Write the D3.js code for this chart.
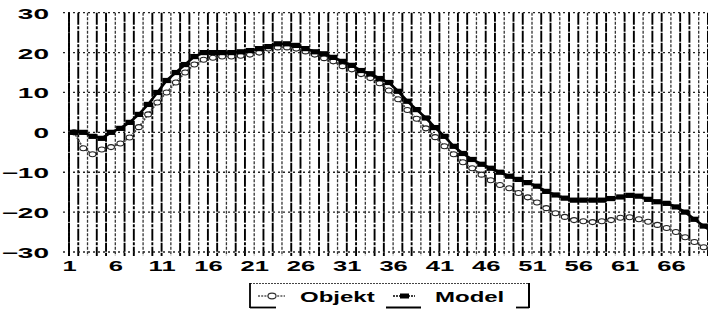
<!DOCTYPE html>
<html><head><meta charset="utf-8">
<script src="https://cdn.jsdelivr.net/npm/d3@7/dist/d3.min.js"></script>
<style>html,body{margin:0;padding:0;background:#fff;} svg{display:block;}</style>
</head><body>
<svg id="c" width="708" height="311"></svg>
<script>
const categories = [1,2,3,4,5,6,7,8,9,10,11,12,13,14,15,16,17,18,19,20,21,22,23,24,25,26,27,28,29,30,
  31,32,33,34,35,36,37,38,39,40,41,42,43,44,45,46,47,48,49,50,51,52,53,54,55,56,57,58,59,60,
  61,62,63,64,65,66,67,68,69,70];
const objekt = [0,-4,-5.5,-4.3,-3.7,-2.8,-1.3,1.3,4.5,7.5,10,12.5,15,17,18.2,18.7,19,19,19.2,19.5,
  20,21,21.3,21.3,21,20.3,19.5,18.6,17.8,16.6,15.8,14.6,13.6,12.3,10.5,8.3,5.6,3.4,1,-1.2,
  -3.5,-5.5,-7.5,-9,-10.6,-12,-13.2,-14,-15.2,-16.3,-17.6,-19,-20.3,-21.2,-22,-22.3,-22.5,-22.3,-22,-21.4,
  -21.3,-21.8,-22.4,-23.2,-24,-25,-26.3,-27.5,-28.8,-30];
const model = [0,0,-1,-1.5,0,1,2.5,4.5,7,10,13,15,17,19,20,20,20,20,20.2,20.5,
  21,21.5,22.2,22.2,21.8,21,20.2,19.7,18.8,17.8,16.8,15.5,14.7,13.5,12.5,10.3,7.8,5.7,3.6,1.2,
  -1,-3.5,-5.3,-6.8,-8,-9,-10,-11,-11.8,-12.6,-13.5,-14.8,-15.7,-16.5,-17,-17,-17,-17,-16.6,-16.2,
  -15.8,-16,-16.8,-17.4,-17.8,-18.7,-20,-21.8,-23.5,-25];
const xTickLabels = ["1","6","11","16","21","26","31","36","41","46","51","56","61","66"];
const yTicks = [-30,-20,-10,0,10,20,30];
const seriesNames = ["Objekt","Model"];

(function () {
const svg = d3.select("#c");
const FONT = "'Liberation Sans', Arial, sans-serif";
const leftX = 69, topY = 12.7, bottomY = 252, step = 9.26;
const x = d3.scaleLinear().domain([1, 70]).range([leftX, leftX + 69 * step]);
const xm = d3.scaleLinear().domain([1, 70]).range([leftX + 5, leftX + 5 + 69 * step]);
const y = d3.scaleLinear().domain([-30, 30]).range([bottomY, topY]);

// vertical gridlines (one per category)
svg.append("g").selectAll("line").data(categories).join("line")
  .attr("x1", d => x(d)).attr("x2", d => x(d))
  .attr("y1", topY).attr("y2", bottomY + 4)
  .attr("stroke", (d, i) => i % 3 === 2 ? "#333" : "#000")
  .attr("stroke-width", (d, i) => i % 3 === 2 ? 1.3 : 1.9)
  .attr("stroke-dasharray", (d, i) => i % 3 === 2 ? "3,1.5" : (i % 2 ? "12,1.5,3,1.5" : "9,1"));

// horizontal gridlines
svg.append("g").selectAll("line").data(yTicks).join("line")
  .attr("x1", leftX - 6).attr("x2", 708)
  .attr("y1", d => y(d)).attr("y2", d => y(d))
  .attr("stroke", "#222").attr("stroke-width", 1.3)
  .attr("stroke-dasharray", "2,3");

// left axis line
svg.append("line").attr("x1", leftX).attr("x2", leftX).attr("y1", topY).attr("y2", bottomY + 4)
  .attr("stroke", "#000").attr("stroke-width", 1.8).attr("stroke-dasharray", "6,1");

// y axis labels
const yAxis = d3.axisLeft(y).tickValues(yTicks).tickSize(0).tickPadding(0);
const gy = svg.append("g").attr("transform", `translate(${leftX},0)`).call(yAxis);
gy.select(".domain").remove();
gy.selectAll("text")
  .attr("x", 0).attr("dy", null).attr("y", 5.5)
  .attr("text-anchor", "end")
  .attr("transform", "translate(-20,0) scale(2,1)")
  .attr("font-family", FONT).attr("font-weight", "bold").attr("font-size", 14)
  .attr("fill", "#000");

// x axis labels
const xAxis = d3.axisBottom(x).tickValues(xTickLabels.map(Number)).tickSize(0).tickPadding(0)
  .tickFormat((d, i) => xTickLabels[i]);
const gx = svg.append("g").attr("transform", `translate(0,${bottomY})`).call(xAxis);
gx.select(".domain").remove();
gx.selectAll("text")
  .attr("y", 0).attr("dy", null)
  .attr("text-anchor", "middle")
  .attr("transform", "translate(0,19) scale(1.65,1)")
  .attr("font-family", FONT).attr("font-weight", "bold").attr("font-size", 15.5)
  .attr("fill", "#000");

// series
svg.append("defs").append("clipPath").attr("id", "pa")
  .append("rect").attr("x", leftX).attr("y", 0).attr("width", 708 - leftX).attr("height", bottomY + 5);
const plot = svg.append("g").attr("clip-path", "url(#pa)");
const line = d3.line().x((d, i) => xm(categories[i])).y(d => y(d));

plot.append("path").datum(objekt).attr("d", line)
  .attr("fill", "none").attr("stroke", "#444").attr("stroke-width", 1.7)
  .attr("stroke-dasharray", "2,1");
plot.append("g").selectAll("ellipse").data(objekt).join("ellipse")
  .attr("cx", (d, i) => xm(categories[i])).attr("cy", d => y(d))
  .attr("rx", 3.4).attr("ry", 2.5)
  .attr("fill", "#fff").attr("stroke", "#222").attr("stroke-width", 1.1);

plot.append("path").datum(model).attr("d", line)
  .attr("fill", "none").attr("stroke", "#000").attr("stroke-width", 2.6);
plot.append("g").selectAll("rect").data(model).join("rect")
  .attr("x", (d, i) => xm(categories[i]) - 4.2).attr("y", d => y(d) - 2.6)
  .attr("width", 8.4).attr("height", 5.2).attr("fill", "#000");

// legend
const lg = svg.append("g");
lg.append("line").attr("x1", 250).attr("x2", 529).attr("y1", 283.5).attr("y2", 283.5)
  .attr("stroke", "#444").attr("stroke-width", 1.2).attr("stroke-dasharray", "2,1");
lg.append("line").attr("x1", 250).attr("x2", 250).attr("y1", 283).attr("y2", 308)
  .attr("stroke", "#000").attr("stroke-width", 1.8);
lg.append("line").attr("x1", 529).attr("x2", 529).attr("y1", 283).attr("y2", 308)
  .attr("stroke", "#000").attr("stroke-width", 2);
[[250, 276], [386, 421], [516, 529]].forEach(([a, b]) =>
  lg.append("line").attr("x1", a).attr("x2", b).attr("y1", 307.5).attr("y2", 307.5)
    .attr("stroke", "#000").attr("stroke-width", 1.8));

const legendItems = [
  {name: seriesNames[0], lx: 258, tx: 300},
  {name: seriesNames[1], lx: 393, tx: 435}
];
legendItems.forEach((it, k) => {
  const cy = 296;
  if (k === 0) {
    lg.append("line").attr("x1", it.lx).attr("x2", it.lx + 27).attr("y1", cy).attr("y2", cy)
      .attr("stroke", "#555").attr("stroke-width", 1.6).attr("stroke-dasharray", "2,1.2");
    lg.append("ellipse").attr("cx", it.lx + 14).attr("cy", cy).attr("rx", 4).attr("ry", 2.8)
      .attr("fill", "#fff").attr("stroke", "#333").attr("stroke-width", 1.2);
  } else {
    lg.append("line").attr("x1", it.lx).attr("x2", it.lx + 22).attr("y1", cy).attr("y2", cy)
      .attr("stroke", "#000").attr("stroke-width", 1.4).attr("stroke-dasharray", "2,1");
    lg.append("rect").attr("x", it.lx + 7).attr("y", cy - 2.5).attr("width", 9).attr("height", 5)
      .attr("fill", "#000");
  }
  lg.append("text").attr("x", 0).attr("y", 0)
    .attr("transform", `translate(${it.tx},${cy + 5.5}) scale(1.6,1)`)
    .attr("font-family", FONT).attr("font-weight", "bold").attr("font-size", 15)
    .attr("fill", "#000").text(it.name);
});
})();
</script>
</body></html>
